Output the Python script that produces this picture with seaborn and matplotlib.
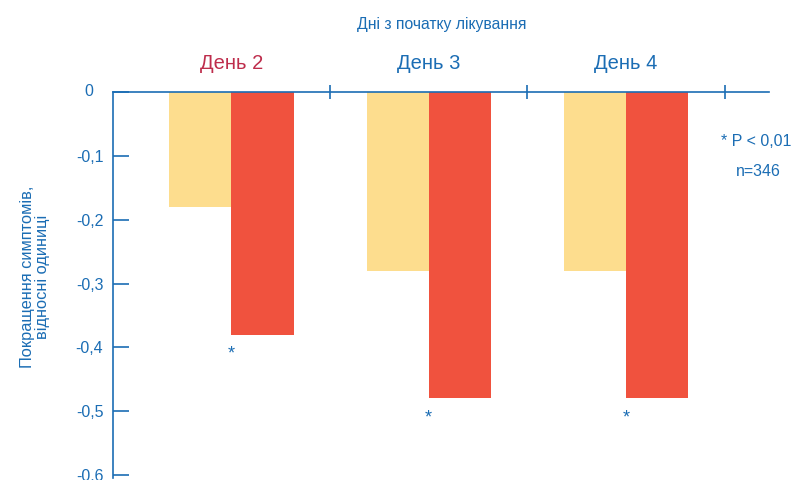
import matplotlib
matplotlib.use("Agg")
import matplotlib.pyplot as plt
import seaborn as sns
import pandas as pd

# data
days = ["День 2", "День 3", "День 4"]
groups = ["Плацебо", "Препарат"]
placebo = [-0.18, -0.28, -0.28]
drug = [-0.38, -0.48, -0.48]
significant = [True, True, True]
yticks = [0, -0.1, -0.2, -0.3, -0.4, -0.5, -0.6]

BLUE = "#1b6db4"
CRIMSON = "#be2d4c"
YELLOW = "#fddd8e"
RED = "#f0523e"

df = pd.DataFrame({
    "day": days * 2,
    "group": [groups[0]] * 3 + [groups[1]] * 3,
    "value": placebo + drug,
})

sns.set_style("white")
plt.rcParams["font.family"] = ["Liberation Sans", "DejaVu Sans"]

fig = plt.figure(figsize=(7.91, 4.8), dpi=100)
ax = fig.add_axes([0.1429, 0.0037, 0.8293, 0.8046])

sns.barplot(data=df, x="day", y="value", hue="group", hue_order=groups,
            palette=[YELLOW, RED], width=0.63, legend=False, ax=ax,
            saturation=1, edgecolor="none", linewidth=0)

ax.set_xlim(-0.6, 2.725)
ax.set_ylim(-0.605, 0)

# spines
for s in ["bottom", "right"]:
    ax.spines[s].set_visible(False)
ax.spines["left"].set_color(BLUE)
ax.spines["top"].set_color(BLUE)
ax.spines["left"].set_linewidth(1.2)
ax.spines["top"].set_linewidth(1.2)

# y axis ("0" is placed by hand, a bit further left like in the original)
ax.set_yticks(yticks)
ax.set_yticklabels(["" if v == 0 else ("%.1f" % v).replace(".", ",") for v in yticks])
ax.tick_params(axis="y", direction="in", length=11.5, width=1.2, color=BLUE,
               labelcolor=BLUE, labelsize=11.5, pad=7, left=True)
ax.annotate("0", xy=(0, 0), xycoords=("axes fraction", "data"), xytext=(-24.5, 1),
            textcoords="offset pixels", ha="center", va="center", color=BLUE,
            fontsize=11.5, annotation_clip=False)
ax.set_ylabel("")
ax.set_xlabel("")

# x axis: separators at top, day labels as minor ticks
ax.xaxis.set_ticks_position("top")
ax.set_xticks([0.5, 1.5, 2.5])
ax.set_xticklabels(["", "", ""])
ax.set_xticks([0, 1, 2], minor=True)
ax.set_xticklabels(days, minor=True)
ax.tick_params(axis="x", which="major", direction="inout", length=9.5, width=1.2,
               color=BLUE, top=True, bottom=False)
ax.tick_params(axis="x", which="minor", length=0, labelsize=14.5, pad=14,
               top=True, bottom=False, labeltop=True, labelbottom=False)
for i, lab in enumerate(ax.get_xticklabels(minor=True)):
    lab.set_color(CRIMSON if i == 0 else BLUE)

# significance stars under the drug bars
for i, (v, sig) in enumerate(zip(drug, significant)):
    if sig:
        ax.text(i, v - 0.038, "*", ha="center", va="baseline", color=BLUE, fontsize=13)

fig.text(442 / 791, 1 - 25 / 480, "Дні з початку лікування", ha="center", va="center",
         color=BLUE, fontsize=11.3)
fig.text(35 / 791, 1 - 277 / 480, "Покращення симптомів,\nвідносні одиниці",
         rotation=90, ha="center", va="center", multialignment="center",
         color=BLUE, fontsize=11.8, linespacing=1.0)
fig.text(756 / 791, 1 - 142 / 480, "* P < 0,01", ha="center", va="center",
         color=BLUE, fontsize=11.5)
fig.text(758 / 791, 1 - 172 / 480, "n=346", ha="center", va="center",
         color=BLUE, fontsize=11.5)

fig.savefig("out.png", dpi=100)
